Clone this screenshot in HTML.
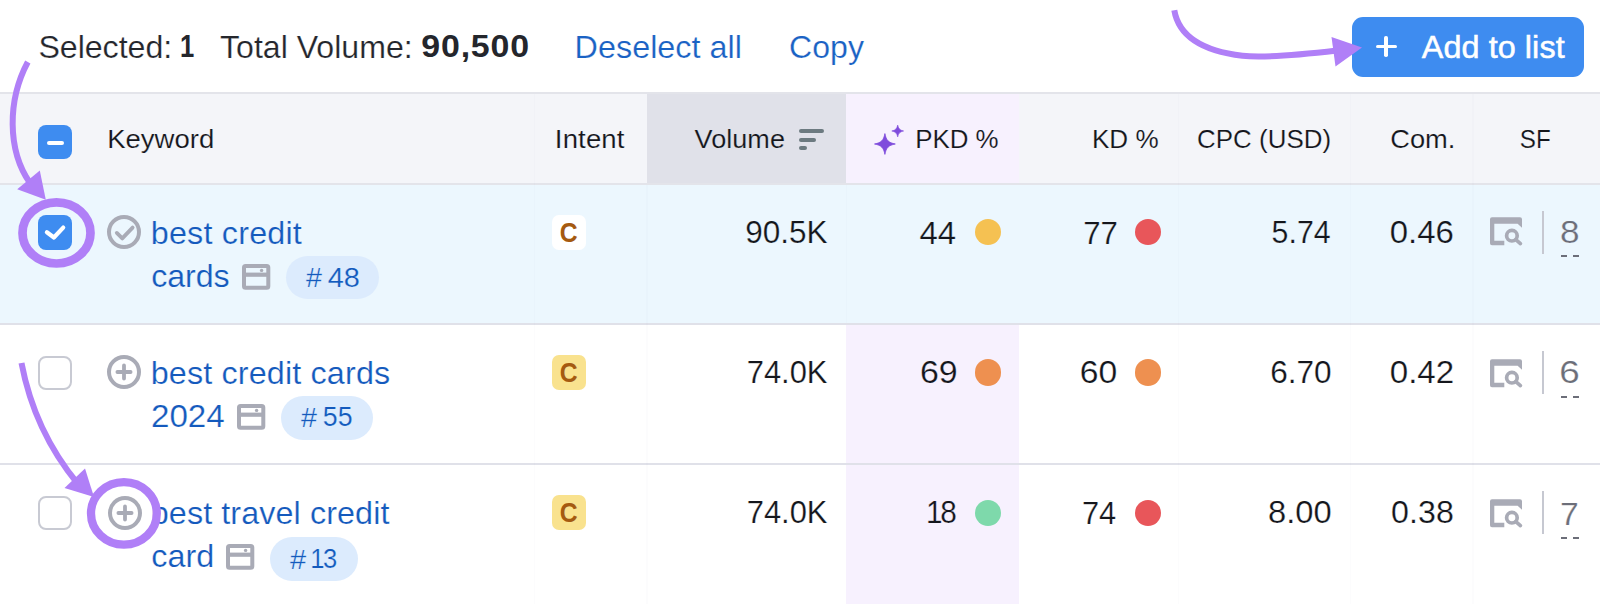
<!DOCTYPE html>
<html><head><meta charset="utf-8"><title>Keyword table</title>
<style>
*{box-sizing:border-box;margin:0;padding:0}
html,body{width:1600px;height:604px;overflow:hidden;background:#fff}
body{position:relative;font-family:"Liberation Sans",sans-serif;color:#191b23}
.abs{position:absolute}
.t{position:absolute;white-space:nowrap;line-height:1;transform-origin:0 0}
.dot{position:absolute;width:26.2px;height:26.2px;border-radius:50%}
.badge{position:absolute;height:43.6px;border-radius:22px;background:#dcebfd}
.intent{position:absolute;left:551.5px;width:34.8px;height:34.9px;border-radius:7px}
.cb{position:absolute;width:34.4px;height:34.4px;border-radius:8px}
.vl{position:absolute;width:1.5px}
</style></head><body>
<!-- top bar button -->
<div class="abs" style="left:1352.2px;top:17px;width:232.2px;height:59.8px;border-radius:11px;background:#3e8cf0"></div>
<div class="abs" style="left:1375.5px;top:44.6px;width:21.5px;height:3.6px;background:#fff;border-radius:1.8px"></div>
<div class="abs" style="left:1384.45px;top:35.65px;width:3.6px;height:21.5px;background:#fff;border-radius:1.8px"></div>
<!-- header -->
<div class="abs" style="left:0;top:92.4px;width:1600px;height:92.4px;background:#e3e4ea"></div>
<div class="abs" style="left:0;top:94px;width:1600px;height:89.2px;background:#f4f5f9"></div>
<div class="abs" style="left:646.5px;top:94px;width:199.5px;height:89.2px;background:#e0e1e9"></div>
<div class="abs" style="left:846px;top:94px;width:172.5px;height:89.2px;background:#f7f1fe"></div>
<!-- sort icon -->
<div class="abs" style="left:798.7px;top:129.4px;width:25.8px;height:3.8px;border-radius:2px;background:#6c7a80"></div>
<div class="abs" style="left:798.7px;top:137.9px;width:17px;height:3.8px;border-radius:2px;background:#6c7a80"></div>
<div class="abs" style="left:798.7px;top:146.4px;width:8.5px;height:3.8px;border-radius:2px;background:#6c7a80"></div>
<!-- sparkle -->
<svg class="abs" style="left:870px;top:120px" width="40" height="40" viewBox="0 0 40 40"><path d="M14.9 13.6C16.2 20.4 18.5 22.7 25.3 24.0C18.5 25.3 16.2 27.6 14.9 34.4C13.6 27.6 11.3 25.3 4.5 24.0C11.3 22.7 13.6 20.4 14.9 13.6Z" fill="#7f4cdc" stroke="#7f4cdc" stroke-width="0.8" stroke-linejoin="round"/><path d="M27.7 5.1C28.5 8.8 29.9 10.2 33.6 11.0C29.9 11.8 28.5 13.2 27.7 16.9C26.9 13.2 25.5 11.8 21.8 11.0C25.5 10.2 26.9 8.8 27.7 5.1Z" fill="#7f4cdc" stroke="#7f4cdc" stroke-width="0.6" stroke-linejoin="round"/></svg>
<!-- rows -->
<div class="abs" style="left:0;top:184.6px;width:1600px;height:139px;background:#ecf7fe"></div>
<div class="abs" style="left:846px;top:325px;width:172.5px;height:279px;background:#f7f1fe"></div>
<div class="abs" style="left:0;top:323.3px;width:1600px;height:2.1px;background:#e0e1e9"></div>
<div class="abs" style="left:0;top:463.3px;width:1600px;height:2.1px;background:#e0e1e9"></div>
<!-- faint column dividers -->
<div class="vl" style="left:533.5px;top:94px;height:510px;background:rgba(120,125,150,.025)"></div>
<div class="vl" style="left:646px;top:185px;height:419px;background:rgba(120,125,150,.025)"></div>
<div class="vl" style="left:845.5px;top:185px;height:138px;background:rgba(120,125,150,.025)"></div>
<div class="vl" style="left:1177.5px;top:94px;height:510px;background:rgba(120,125,150,.025)"></div>
<div class="vl" style="left:1349.5px;top:94px;height:510px;background:rgba(120,125,150,.025)"></div>
<div class="vl" style="left:1472px;top:94px;height:510px;background:rgba(120,125,150,.025)"></div>
<svg class="abs" style="left:106.4px;top:214.2px" width="36" height="36" viewBox="0 0 36 36"><circle cx="18" cy="18" r="15" fill="none" stroke="#a9abb6" stroke-width="4"/><path d="M10.8 18.9L16.3 24.4L26.6 13.6" fill="none" stroke="#a9abb6" stroke-width="3.8" stroke-linecap="round" stroke-linejoin="round"/></svg>
<svg class="abs" style="left:106.4px;top:354.4px" width="36" height="36" viewBox="0 0 36 36"><circle cx="18" cy="18" r="15" fill="none" stroke="#a9abb6" stroke-width="4"/><path d="M11.4 18H24.6M18 11.4V24.6" stroke="#a9abb6" stroke-width="3.8" stroke-linecap="round"/></svg>
<svg class="abs" style="left:106.6px;top:494.70000000000005px" width="36" height="36" viewBox="0 0 36 36"><circle cx="18" cy="18" r="15" fill="none" stroke="#a9abb6" stroke-width="4"/><path d="M11.4 18H24.6M18 11.4V24.6" stroke="#a9abb6" stroke-width="3.8" stroke-linecap="round"/></svg>
<svg class="abs" style="left:242px;top:263.7px" width="29" height="26" viewBox="0 0 29 26"><rect x="2" y="2" width="24.3" height="21.8" rx="1.6" fill="none" stroke="#a9abb6" stroke-width="4"/><rect x="2" y="8.6" width="24" height="4.2" fill="#a9abb6"/><circle cx="19.6" cy="6.4" r="1.7" fill="#a9abb6"/></svg>
<svg class="abs" style="left:237px;top:403.9px" width="29" height="26" viewBox="0 0 29 26"><rect x="2" y="2" width="24.3" height="21.8" rx="1.6" fill="none" stroke="#a9abb6" stroke-width="4"/><rect x="2" y="8.6" width="24" height="4.2" fill="#a9abb6"/><circle cx="19.6" cy="6.4" r="1.7" fill="#a9abb6"/></svg>
<svg class="abs" style="left:226.2px;top:544.3px" width="29" height="26" viewBox="0 0 29 26"><rect x="2" y="2" width="24.3" height="21.8" rx="1.6" fill="none" stroke="#a9abb6" stroke-width="4"/><rect x="2" y="8.6" width="24" height="4.2" fill="#a9abb6"/><circle cx="19.6" cy="6.4" r="1.7" fill="#a9abb6"/></svg>
<svg class="abs" style="left:1489.9px;top:217.2px" width="34" height="30" viewBox="0 0 34 30"><path d="M2 0.2H30a2 2 0 0 1 2 2V10.8L27.6 6.8H4.3V23.8H14.3V28.2H2a2 2 0 0 1-2-2V2.2a2 2 0 0 1 2-2z" fill="#a9abb6"/><circle cx="21.9" cy="18.7" r="5.3" fill="none" stroke="#a9abb6" stroke-width="3.7"/><path d="M25.8 22.6L30.4 26.6" stroke="#a9abb6" stroke-width="3.7" stroke-linecap="round"/></svg>
<div class="abs" style="left:1541.5px;top:211.0px;width:2px;height:43px;background:#c6c8d1"></div>
<div class="abs" style="left:1561px;top:255.2px;width:6.3px;height:2.2px;background:#6c6e79"></div>
<div class="abs" style="left:1573px;top:255.2px;width:6.3px;height:2.2px;background:#6c6e79"></div>
<svg class="abs" style="left:1489.9px;top:358.59999999999997px" width="34" height="30" viewBox="0 0 34 30"><path d="M2 0.2H30a2 2 0 0 1 2 2V10.8L27.6 6.8H4.3V23.8H14.3V28.2H2a2 2 0 0 1-2-2V2.2a2 2 0 0 1 2-2z" fill="#a9abb6"/><circle cx="21.9" cy="18.7" r="5.3" fill="none" stroke="#a9abb6" stroke-width="3.7"/><path d="M25.8 22.6L30.4 26.6" stroke="#a9abb6" stroke-width="3.7" stroke-linecap="round"/></svg>
<div class="abs" style="left:1541.5px;top:351.0px;width:2px;height:43px;background:#c6c8d1"></div>
<div class="abs" style="left:1561px;top:395.8px;width:6.3px;height:2.2px;background:#6c6e79"></div>
<div class="abs" style="left:1573px;top:395.8px;width:6.3px;height:2.2px;background:#6c6e79"></div>
<svg class="abs" style="left:1489.9px;top:498.7px" width="34" height="30" viewBox="0 0 34 30"><path d="M2 0.2H30a2 2 0 0 1 2 2V10.8L27.6 6.8H4.3V23.8H14.3V28.2H2a2 2 0 0 1-2-2V2.2a2 2 0 0 1 2-2z" fill="#a9abb6"/><circle cx="21.9" cy="18.7" r="5.3" fill="none" stroke="#a9abb6" stroke-width="3.7"/><path d="M25.8 22.6L30.4 26.6" stroke="#a9abb6" stroke-width="3.7" stroke-linecap="round"/></svg>
<div class="abs" style="left:1541.5px;top:491.0px;width:2px;height:43px;background:#c6c8d1"></div>
<div class="abs" style="left:1561px;top:536.8px;width:6.3px;height:2.2px;background:#6c6e79"></div>
<div class="abs" style="left:1573px;top:536.8px;width:6.3px;height:2.2px;background:#6c6e79"></div>
<div class="badge" style="left:286.4px;top:255.8px;width:92.7px"></div>
<div class="badge" style="left:280.7px;top:396px;width:92.1px"></div>
<div class="badge" style="left:269.9px;top:537.4px;width:87.9px"></div>
<div class="intent" style="top:215px;background:#fff"></div>
<div class="intent" style="top:355.2px;background:#f9e28e"></div>
<div class="intent" style="top:495.2px;background:#f9e28e"></div>
<div class="dot" style="left:975.1px;top:219.20000000000002px;background:#f5c152"></div>
<div class="dot" style="left:1134.9px;top:219.20000000000002px;background:#e8565a"></div>
<div class="dot" style="left:975.1px;top:359.4px;background:#ee9050"></div>
<div class="dot" style="left:1134.9px;top:359.4px;background:#ee9050"></div>
<div class="dot" style="left:975.1px;top:499.69999999999993px;background:#7ed9ab"></div>
<div class="dot" style="left:1134.9px;top:499.69999999999993px;background:#e8565a"></div>
<div class="cb" style="left:38px;top:124.8px;background:#3e8cf0"></div><div class="abs" style="left:47.3px;top:140.6px;width:16.7px;height:4.5px;border-radius:2.25px;background:#fff"></div>
<div class="cb" style="left:38px;top:215.2px;background:#3e8cf0"></div><svg class="abs" style="left:38px;top:215.2px" width="34" height="34" viewBox="0 0 34 34"><path d="M8.9 17.3L15.9 22.5L25.2 12.6" fill="none" stroke="#fff" stroke-width="4.2" stroke-linecap="round" stroke-linejoin="round"/></svg>
<div class="cb" style="left:38px;top:355.5px;background:#fff;border:2px solid #c8cad3"></div>
<div class="cb" style="left:38px;top:495.8px;background:#fff;border:2px solid #c8cad3"></div>
<div class="t" style="left:38px;top:32px;font-size:30.5px;color:#24262c;letter-spacing:-0.041px;transform:translate(0.40px,0.18px) scaleX(1.0547);-webkit-text-stroke:0.2px #ffffff">Selected:</div>
<div class="t" style="left:180px;top:30px;font-size:32px;color:#24262c;font-weight:700;transform:translate(0.00px,0.41px) scaleX(0.8000)">1</div>
<div class="t" style="left:220px;top:32px;font-size:30.5px;color:#24262c;letter-spacing:0.008px;transform:translate(0.05px,0.18px) scaleX(1.0513);-webkit-text-stroke:0.2px #ffffff">Total Volume:</div>
<div class="t" style="left:421px;top:30px;font-size:32px;color:#24262c;letter-spacing:0.736px;font-weight:700;transform:translate(0.35px,0.41px) scaleX(1.0600)">90,500</div>
<div class="t" style="left:574px;top:32px;font-size:30.5px;color:#1a62c4;letter-spacing:0.013px;transform:translate(0.60px,0.18px) scaleX(1.0600);-webkit-text-stroke:0.2px #ffffff">Deselect all</div>
<div class="t" style="left:789px;top:31px;font-size:30.5px;color:#1a62c4;letter-spacing:0.032px;transform:translate(0.05px,0.68px) scaleX(1.0498);-webkit-text-stroke:0.2px #ffffff">Copy</div>
<div class="t" style="left:1421px;top:31px;font-size:30.5px;color:#ffffff;letter-spacing:0.080px;transform:translate(0.80px,0.93px) scaleX(1.0600);-webkit-text-stroke:0.5px #ffffff">Add to list</div>
<div class="t" style="left:107px;top:126px;font-size:26px;color:#14161c;letter-spacing:0.008px;transform:translate(0.15px,0.19px) scaleX(1.0581);-webkit-text-stroke:0.15px #f4f5f9">Keyword</div>
<div class="t" style="left:554px;top:125px;font-size:26px;color:#14161c;letter-spacing:0.123px;transform:translate(0.85px,0.84px) scaleX(1.0600);-webkit-text-stroke:0.15px #f4f5f9">Intent</div>
<div class="t" style="left:694px;top:125px;font-size:26px;color:#14161c;letter-spacing:0.029px;transform:translate(0.60px,0.84px) scaleX(1.0405);-webkit-text-stroke:0.15px #e0e1e9">Volume</div>
<div class="t" style="left:915px;top:126px;font-size:26px;color:#14161c;letter-spacing:-0.050px;transform:translate(0.25px,0.24px) scaleX(0.9963);-webkit-text-stroke:0.15px #f7f1fe">PKD %</div>
<div class="t" style="left:1091px;top:126px;font-size:26px;color:#14161c;transform:translate(0.95px,0.19px) scaleX(1.0032);-webkit-text-stroke:0.15px #f4f5f9">KD %</div>
<div class="t" style="left:1197px;top:126px;font-size:26px;color:#14161c;letter-spacing:0.013px;transform:translate(0.10px,0.19px) scaleX(0.9966);-webkit-text-stroke:0.15px #f4f5f9">CPC (USD)</div>
<div class="t" style="left:1390px;top:125px;font-size:26px;color:#14161c;letter-spacing:-0.063px;transform:translate(0.25px,0.84px) scaleX(1.0500);-webkit-text-stroke:0.15px #f4f5f9">Com.</div>
<div class="t" style="left:1519px;top:125px;font-size:26px;color:#14161c;transform:translate(0.75px,0.99px) scaleX(0.9300);-webkit-text-stroke:0.15px #f4f5f9">SF</div>
<div class="t" style="left:150px;top:217px;font-size:30.5px;color:#145abd;letter-spacing:0.184px;transform:translate(0.75px,0.68px) scaleX(1.0600);-webkit-text-stroke:0.22px #ecf7fe">best credit</div>
<div class="t" style="left:151px;top:261px;font-size:30.5px;color:#145abd;letter-spacing:-0.047px;transform:translate(0.25px,0.43px) scaleX(1.0544);-webkit-text-stroke:0.22px #ecf7fe">cards</div>
<div class="t" style="left:306px;top:264px;font-size:27.5px;color:#145abd;transform:translate(0.05px,0.12px) scaleX(1.0441);-webkit-text-stroke:0.22px #dcebfd">#</div>
<div class="t" style="left:327px;top:263px;font-size:27.5px;color:#145abd;transform:translate(0.70px,0.67px) scaleX(1.0526);-webkit-text-stroke:0.22px #dcebfd">48</div>
<div class="t" style="left:559px;top:218px;font-size:27.5px;color:#a55a10;font-weight:700;transform:translate(0.80px,0.67px) scaleX(0.9000)">C</div>
<div class="t" style="left:745px;top:216px;font-size:32px;color:#14161c;letter-spacing:-0.013px;transform:translate(0.15px,0.21px) scaleX(0.9840);-webkit-text-stroke:0.22px #ecf7fe">90.5K</div>
<div class="t" style="left:919px;top:216px;font-size:32px;color:#14161c;letter-spacing:0.049px;transform:translate(0.50px,0.66px) scaleX(1.0281);-webkit-text-stroke:0.22px #ecf7fe">44</div>
<div class="t" style="left:1083px;top:216px;font-size:32px;color:#14161c;letter-spacing:-0.205px;transform:translate(0.25px,0.66px) scaleX(0.9750);-webkit-text-stroke:0.22px #ecf7fe">77</div>
<div class="t" style="left:1271px;top:216px;font-size:32px;color:#14161c;letter-spacing:0.035px;transform:translate(0.60px,0.21px) scaleX(0.9473);-webkit-text-stroke:0.22px #ecf7fe">5.74</div>
<div class="t" style="left:1389px;top:216px;font-size:32px;color:#14161c;transform:translate(0.75px,0.11px) scaleX(1.0295);-webkit-text-stroke:0.22px #ecf7fe">0.46</div>
<div class="t" style="left:1560px;top:216px;font-size:32px;color:#6c6e79;transform:translate(0.10px,0.46px) scaleX(1.0983);-webkit-text-stroke:0.22px #ecf7fe">8</div>
<div class="t" style="left:150px;top:357px;font-size:30.5px;color:#145abd;letter-spacing:0.136px;transform:translate(0.70px,0.63px) scaleX(1.0600);-webkit-text-stroke:0.22px #ffffff">best credit cards</div>
<div class="t" style="left:151px;top:399px;font-size:32px;color:#145abd;letter-spacing:-0.048px;transform:translate(0.00px,0.96px) scaleX(1.0359);-webkit-text-stroke:0.22px #ffffff">2024</div>
<div class="t" style="left:301px;top:403px;font-size:27.5px;color:#145abd;transform:translate(0.05px,0.67px) scaleX(1.0441);-webkit-text-stroke:0.22px #dcebfd">#</div>
<div class="t" style="left:322px;top:403px;font-size:27.5px;color:#145abd;letter-spacing:0.103px;transform:translate(0.70px,0.07px) scaleX(0.9714);-webkit-text-stroke:0.22px #dcebfd">55</div>
<div class="t" style="left:559px;top:358px;font-size:27.5px;color:#a55a10;font-weight:700;transform:translate(0.75px,0.72px) scaleX(0.9000)">C</div>
<div class="t" style="left:746px;top:356px;font-size:32px;color:#14161c;transform:translate(0.70px,0.06px) scaleX(0.9654);-webkit-text-stroke:0.22px #ffffff">74.0K</div>
<div class="t" style="left:919px;top:356px;font-size:32px;color:#14161c;letter-spacing:-0.047px;transform:translate(0.90px,0.21px) scaleX(1.0600);-webkit-text-stroke:0.22px #f7f1fe">69</div>
<div class="t" style="left:1079px;top:356px;font-size:32px;color:#14161c;letter-spacing:0.048px;transform:translate(0.75px,0.16px) scaleX(1.0523);-webkit-text-stroke:0.22px #ffffff">60</div>
<div class="t" style="left:1270px;top:356px;font-size:32px;color:#14161c;letter-spacing:-0.068px;transform:translate(0.25px,0.16px) scaleX(0.9864);-webkit-text-stroke:0.22px #ffffff">6.70</div>
<div class="t" style="left:1389px;top:356px;font-size:32px;color:#14161c;transform:translate(0.75px,0.11px) scaleX(1.0339);-webkit-text-stroke:0.22px #ffffff">0.42</div>
<div class="t" style="left:1559px;top:356px;font-size:32px;color:#6c6e79;transform:translate(0.35px,0.46px) scaleX(1.1517);-webkit-text-stroke:0.22px #ffffff">6</div>
<div class="t" style="left:150px;top:497px;font-size:30.5px;color:#145abd;letter-spacing:0.080px;transform:translate(0.75px,0.68px) scaleX(1.0600);-webkit-text-stroke:0.22px #ffffff">best travel credit</div>
<div class="t" style="left:151px;top:541px;font-size:30.5px;color:#145abd;letter-spacing:0.031px;transform:translate(0.25px,0.48px) scaleX(1.0600);-webkit-text-stroke:0.22px #ffffff">card</div>
<div class="t" style="left:289px;top:545px;font-size:27.5px;color:#145abd;transform:translate(0.98px,0.52px) scaleX(1.0576);-webkit-text-stroke:0.22px #dcebfd">#</div>
<div class="t" style="left:310px;top:544px;font-size:27.5px;color:#145abd;letter-spacing:-1.559px;transform:translate(0.25px,0.97px) scaleX(0.9300);-webkit-text-stroke:0.22px #dcebfd">13</div>
<div class="t" style="left:559px;top:498px;font-size:27.5px;color:#a55a10;font-weight:700;transform:translate(0.75px,0.72px) scaleX(0.9000)">C</div>
<div class="t" style="left:746px;top:496px;font-size:32px;color:#14161c;transform:translate(0.70px,0.06px) scaleX(0.9654);-webkit-text-stroke:0.22px #ffffff">74.0K</div>
<div class="t" style="left:926px;top:496px;font-size:32px;color:#14161c;letter-spacing:-2.419px;transform:translate(0.00px,0.16px) scaleX(0.9300);-webkit-text-stroke:0.22px #f7f1fe">18</div>
<div class="t" style="left:1081px;top:496px;font-size:32px;color:#14161c;transform:translate(0.95px,0.61px) scaleX(0.9618);-webkit-text-stroke:0.22px #ffffff">74</div>
<div class="t" style="left:1268px;top:496px;font-size:32px;color:#14161c;transform:translate(0.05px,0.21px) scaleX(1.0211);-webkit-text-stroke:0.22px #ffffff">8.00</div>
<div class="t" style="left:1391px;top:496px;font-size:32px;color:#14161c;letter-spacing:0.033px;transform:translate(0.10px,0.11px) scaleX(1.0050);-webkit-text-stroke:0.22px #ffffff">0.38</div>
<div class="t" style="left:1560px;top:497px;font-size:32px;color:#6c6e79;transform:translate(0.12px,0.51px) scaleX(1.0526);-webkit-text-stroke:0.22px #ffffff">7</div>
<svg class="abs" style="left:0;top:0;pointer-events:none" width="1600" height="604" viewBox="0 0 1600 604">
<g fill="none" stroke="#b07ff7" stroke-width="6" stroke-linecap="butt">
<path d="M1174.3 10.2C1178 32 1195 50 1242.5 55.8C1256 57.4 1290 56 1337 50.5"/>
<path d="M27.8 62C7.5 100 7 150 30 183"/>
<path d="M21.5 363C30 408 50 450 78 484"/>
</g>
<g fill="#b07ff7">
<path d="M1331.5 37L1362 47.5L1335.5 66.5Z"/>
<path d="M17.2 189.2L39.8 170.5L45.8 199.8Z"/>
<path d="M64.5 488L85 468.5L94 497Z"/>
</g>
<ellipse cx="56.5" cy="232.9" rx="34" ry="30.6" fill="none" stroke="#b07ff7" stroke-width="8.7"/>
<ellipse cx="123.9" cy="513.4" rx="32.9" ry="31.3" fill="none" stroke="#b07ff7" stroke-width="8.3"/>
</svg>
</body></html>
